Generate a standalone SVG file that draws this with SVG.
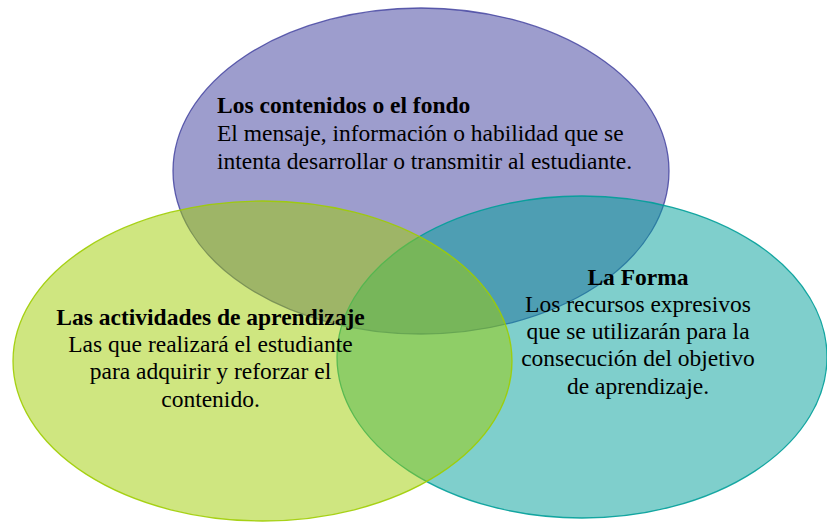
<svg xmlns="http://www.w3.org/2000/svg" width="827" height="522" viewBox="0 0 827 522">
<rect width="827" height="522" fill="#fff"/>
<g id="contenidos">
<ellipse cx="421" cy="171" rx="248" ry="163" fill="#3c3c9c" fill-opacity="0.5" stroke="#3c3c9c" stroke-opacity="0.8" stroke-width="1.3"/>
<text font-family="Liberation Serif, serif" font-size="23.5" font-weight="bold" x="217" y="113">Los contenidos o el fondo</text>
<text font-family="Liberation Serif, serif" font-size="23.5" x="217" y="141">El mensaje, información o habilidad que se</text>
<text font-family="Liberation Serif, serif" font-size="23.5" x="217" y="169">intenta desarrollar o transmitir al estudiante.</text>
</g>
<g id="forma">
<ellipse cx="582" cy="357" rx="245" ry="161" fill="#009f99" fill-opacity="0.5" stroke="#009f99" stroke-opacity="0.9" stroke-width="1.3"/>
<text font-family="Liberation Serif, serif" font-size="23.5" text-anchor="middle" font-weight="bold" x="638" y="285">La Forma</text>
<text font-family="Liberation Serif, serif" font-size="23.5" text-anchor="middle" x="638" y="312">Los recursos expresivos</text>
<text font-family="Liberation Serif, serif" font-size="23.5" text-anchor="middle" x="638" y="339">que se utilizarán para la</text>
<text font-family="Liberation Serif, serif" font-size="23.5" text-anchor="middle" x="638" y="366">consecución del objetivo</text>
<text font-family="Liberation Serif, serif" font-size="23.5" text-anchor="middle" x="638" y="394">de aprendizaje.</text>
</g>
<g id="actividades">
<ellipse cx="262.5" cy="361" rx="249.5" ry="160" fill="#9fcd01" fill-opacity="0.5" stroke="#9fcd01" stroke-opacity="0.9" stroke-width="1.3"/>
<text font-family="Liberation Serif, serif" font-size="23.5" text-anchor="middle" font-weight="bold" x="210.5" y="325">Las actividades de aprendizaje</text>
<text font-family="Liberation Serif, serif" font-size="23.5" text-anchor="middle" x="210.5" y="352">Las que realizará el estudiante</text>
<text font-family="Liberation Serif, serif" font-size="23.5" text-anchor="middle" x="210.5" y="379">para adquirir y reforzar el</text>
<text font-family="Liberation Serif, serif" font-size="23.5" text-anchor="middle" x="210.5" y="407">contenido.</text>
</g>
<g id="connectors"></g>
</svg>
